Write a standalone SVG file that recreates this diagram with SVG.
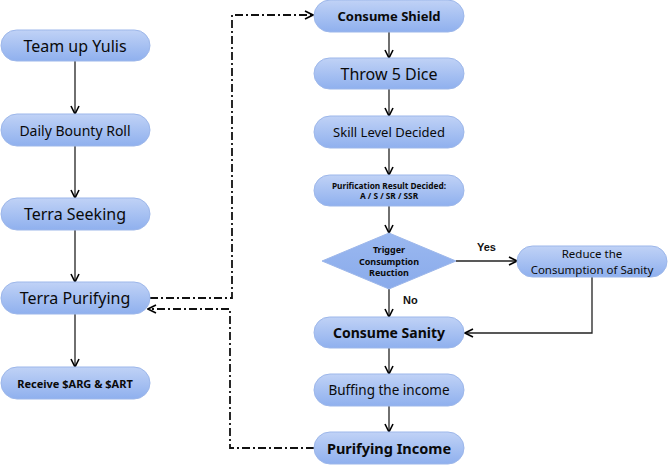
<svg xmlns="http://www.w3.org/2000/svg" width="669" height="465" viewBox="0 0 669 465">
<defs>
<linearGradient id="g" x1="0" y1="0" x2="0" y2="1">
<stop offset="0" stop-color="#c0d2f6"/>
<stop offset="1" stop-color="#8fb0ee"/>
</linearGradient>
<linearGradient id="gd" x1="0" y1="0" x2="0" y2="1">
<stop offset="0" stop-color="#9ab8f0"/>
<stop offset="1" stop-color="#8aabeb"/>
</linearGradient>
<marker id="a" viewBox="0 0 10 10" refX="9" refY="5" markerWidth="10" markerHeight="10" markerUnits="userSpaceOnUse" orient="auto">
<path d="M1,1 L9,5 L1,9" fill="none" stroke="#000" stroke-width="1.6"/>
</marker>
</defs>
<style>
.n{fill:url(#g);stroke:#9db7ea;stroke-width:1}
.d{fill:url(#gd);stroke:#9db7ea;stroke-width:1}
.t{font-family:"Noto Sans","Open Sans",sans-serif;fill:#0a0a0a;text-anchor:middle;dominant-baseline:central}
.b{font-weight:bold}
.c{fill:none;stroke:#222;stroke-width:1.3}
.dd{fill:none;stroke:#111;stroke-width:1.8;stroke-dasharray:8 3 2 3}
.l{font-family:"Liberation Sans",Arial,sans-serif;font-weight:bold;font-size:11px;fill:#111}
</style>
<g id="connectors">
<path class="c" d="M75,61 V114" marker-end="url(#a)"/>
<path class="c" d="M75,146 V198" marker-end="url(#a)"/>
<path class="c" d="M75,230 V282" marker-end="url(#a)"/>
<path class="c" d="M75,314 V367" marker-end="url(#a)"/>
<path class="c" d="M389,32 V58" marker-end="url(#a)"/>
<path class="c" d="M389,89 V116" marker-end="url(#a)"/>
<path class="c" d="M389,148 V175" marker-end="url(#a)"/>
<path class="c" d="M389,206 V233" marker-end="url(#a)"/>
<path class="c" d="M389,289 V317" marker-end="url(#a)"/>
<path class="c" d="M456,261 H517" marker-end="url(#a)"/>
<path class="c" d="M592,277 V333 H465" marker-end="url(#a)"/>
<path class="c" d="M389,348 V374" marker-end="url(#a)"/>
<path class="c" d="M389,406 V432" marker-end="url(#a)"/>
<path class="dd" d="M150,298 H232 V15 H313" marker-end="url(#a)"/>
<path class="dd" d="M314,448 H230 V309 H148" marker-end="url(#a)"/>
<text class="l" x="477" y="251">Yes</text>
<text class="l" x="403" y="304">No</text>
</g>
<g id="team-up-yulis"><rect class="n" x="1" y="30" width="149" height="31" rx="15.5"/><text class="t" x="75" y="45.5" font-size="16">Team up Yulis</text></g>
<g id="daily-bounty-roll"><rect class="n" x="1" y="114" width="149" height="32" rx="16"/><text class="t" x="75" y="130" font-size="14">Daily Bounty Roll</text></g>
<g id="terra-seeking"><rect class="n" x="1" y="198" width="149" height="32" rx="16"/><text class="t" x="75" y="214" font-size="16">Terra Seeking</text></g>
<g id="terra-purifying"><rect class="n" x="1" y="282" width="149" height="32" rx="16"/><text class="t" x="75" y="298" font-size="16">Terra Purifying</text></g>
<g id="receive"><rect class="n" x="1" y="367" width="149" height="32" rx="16"/><text class="t b" x="75" y="383" font-size="11">Receive $ARG &amp; $ART</text></g>
<g id="consume-shield"><rect class="n" x="314" y="0" width="150" height="32" rx="16"/><text class="t b" x="389" y="16" font-size="13">Consume Shield</text></g>
<g id="throw-5-dice"><rect class="n" x="314" y="58" width="150" height="31" rx="15.5"/><text class="t" x="389" y="73.5" font-size="16">Throw 5 Dice</text></g>
<g id="skill-level"><rect class="n" x="314" y="116" width="150" height="32" rx="16"/><text class="t" x="389" y="132" font-size="13">Skill Level Decided</text></g>
<g id="purification-result"><rect class="n" x="314" y="175" width="150" height="31" rx="15.5"/><text class="t b" x="389" y="185" font-size="8.3">Purification Result Decided:</text><text class="t b" x="389" y="195.5" font-size="8.3">A / S / SR / SSR</text></g>
<g id="trigger"><polygon class="d" points="389,233 456,261 389,289 322,261"/><text class="t b" x="389" y="249.5" font-size="9">Trigger</text><text class="t b" x="389" y="261" font-size="9">Consumption</text><text class="t b" x="389" y="272.5" font-size="9">Reuction</text></g>
<g id="reduce"><rect class="n" x="517" y="246" width="150" height="31" rx="15.5"/><text class="t" x="592" y="253.5" font-size="11.5">Reduce the</text><text class="t" x="592" y="269" font-size="11.5">Consumption of Sanity</text></g>
<g id="consume-sanity"><rect class="n" x="314" y="317" width="150" height="31" rx="15.5"/><text class="t b" x="389" y="332.5" font-size="14">Consume Sanity</text></g>
<g id="buffing"><rect class="n" x="314" y="374" width="150" height="32" rx="16"/><text class="t" x="389" y="390" font-size="13.5">Buffing the income</text></g>
<g id="purifying-income"><rect class="n" x="314" y="432" width="150" height="32" rx="16"/><text class="t b" x="389" y="448" font-size="14.5">Purifying Income</text></g>
</svg>
